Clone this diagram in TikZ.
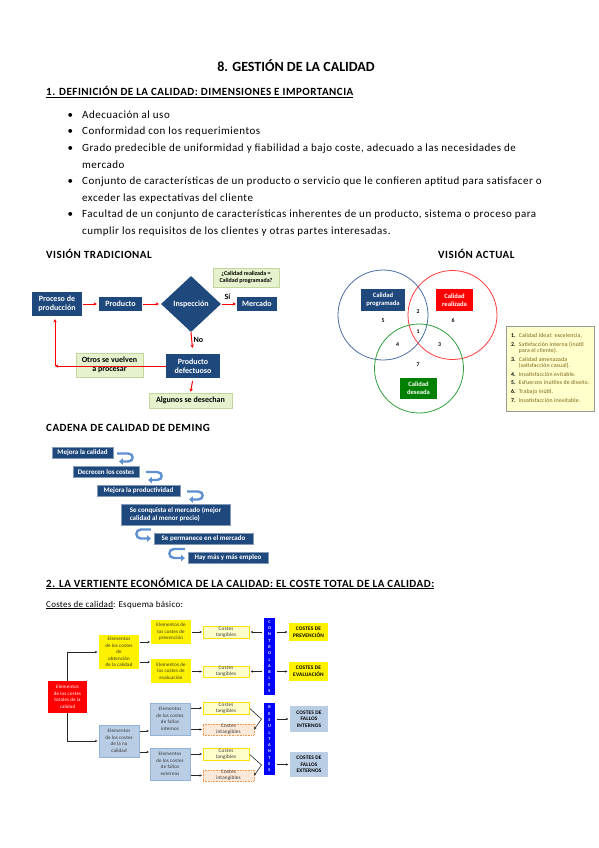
\documentclass[tikz,border=0pt]{standalone}
\usepackage{fontspec}
\setmainfont{Carlito}
\newfontfamily\ls[LetterSpace=4.5]{Carlito}
\newfontfamily\lss[LetterSpace=3]{Carlito}
\usetikzlibrary{shapes.geometric,arrows.meta,calc,shadows}
\definecolor{dblue}{RGB}{31,73,125}
\definecolor{lgreen}{RGB}{230,241,205}
\definecolor{lgreend}{RGB}{195,214,155}
\definecolor{vblue}{RGB}{74,111,165}
\definecolor{vred}{RGB}{255,60,60}
\definecolor{vgreen}{RGB}{50,160,60}
\definecolor{dgreen}{RGB}{0,128,0}
\definecolor{legbg}{RGB}{255,255,204}
\definecolor{legtxt}{RGB}{120,95,20}
\definecolor{arrblue}{RGB}{95,145,210}
\definecolor{lblue}{RGB}{185,205,229}
\definecolor{lblued}{RGB}{149,179,215}
\definecolor{lyellow}{RGB}{255,255,204}
\definecolor{peach}{RGB}{253,233,217}
\definecolor{orangeb}{RGB}{247,150,70}
\definecolor{barblue}{RGB}{0,0,255}
\begin{document}
\begin{tikzpicture}[x=1pt,y=-1pt,
  txt/.style={inner sep=0,anchor=base west},
  tb/.style={fill=dblue,text=white,font=\fontsize{8}{9.4}\selectfont\bfseries,align=center,inner sep=0},
  gnote/.style={fill=lgreen,draw=lgreend,line width=0.5pt,align=center,inner sep=0,font=\fontsize{8}{9.4}\selectfont\bfseries},
  redarr/.style={draw=red,line width=1pt,-{Stealth[length=3.2pt,width=3.4pt]}},
  vbox/.style={text=white,font=\fontsize{6.6}{8}\selectfont\bfseries,align=center,inner sep=0},
  vnum/.style={font=\fontsize{5.8}{6}\selectfont\bfseries,inner sep=0},
  dbox/.style={fill=dblue,draw=dblue!55!white,line width=0.3pt,text=white,font=\fontsize{7}{8.6}\selectfont\bfseries,inner sep=0},
  darr/.style={draw=arrblue,line width=2.4pt,-{Triangle[length=3.8pt,width=6.5pt]}},
  cbox/.style={inner sep=0,align=center,font=\lss\fontsize{5}{6.5}\selectfont,text=black!80},
  cbold/.style={font=\lss\fontsize{5.4}{6.6}\selectfont\bfseries,text=black},
  yel/.style={cbox,fill=yellow},
  lb/.style={cbox,fill=lblue,draw=lblued,line width=0.3pt},
  tang/.style={cbox,fill=lyellow,draw=yellow!85!orange,line width=0.4pt,font=\lss\fontsize{5.2}{5.8}\selectfont},
  intang/.style={cbox,fill=peach,draw=orangeb,line width=0.4pt,dash pattern=on 1pt off 0.6pt,font=\lss\fontsize{5.2}{5.8}\selectfont},
  bar/.style={fill=barblue,text=white,inner sep=0,align=center,font=\fontsize{4.3}{6.3}\selectfont\bfseries},
  carr/.style={draw=black!85,line width=0.6pt,-{Stealth[length=2.3pt,width=2.4pt]}}
]
\useasboundingbox (0,0) rectangle (599,848);
\fill[white] (0,0) rectangle (599,848);

% ---------- headings and bullets
\node[inner sep=0,font=\fontsize{14}{16}\selectfont\bfseries] (title) at (296,66) {8. GESTIÓN DE LA CALIDAD};
\node[txt,font=\ls\fontsize{11}{13}\selectfont\bfseries] (h1) at (46,96) {\underline{1. DEFINICIÓN DE LA CALIDAD: DIMENSIONES E IMPORTANCIA}};

\foreach \i/\t in {0/{Adecuación al uso},
  1/{Conformidad con los requerimientos},
  2/{Grado predecible de uniformidad y fiabilidad a bajo coste, adecuado a las necesidades de},
  3/{mercado},
  4/{Conjunto de características de un producto o servicio que le confieren aptitud para satisfacer o},
  5/{exceder las expectativas del cliente},
  6/{Facultad de un conjunto de características inherentes de un producto, sistema o proceso para},
  7/{cumplir los requisitos de los clientes y otras partes interesadas.}}
  {\node[txt,font=\ls\fontsize{11}{13}\selectfont] (l\i) at (82,118.5+16.5*\i) {\t};}
\foreach \i in {0,1,2,4,6}
  {\node[txt,font=\fontsize{11}{13}\selectfont] (b\i) at (67.5,118.5+16.5*\i) {•};}

% ---------- vision tradicional
\node[txt,font=\ls\fontsize{11}{13}\selectfont\bfseries] (vt) at (46,258) {VISIÓN TRADICIONAL};
\node[tb,minimum width=50,minimum height=24] (proc) at (57,304) {Proceso de\\producción};
\node[tb,minimum width=43,minimum height=14] (prod) at (120.5,304) {Producto};
\node[diamond,aspect=1,fill=dblue,text=white,font=\fontsize{8}{9.4}\selectfont\bfseries,inner sep=0,minimum width=60,minimum height=56] (insp) at (191,304) {Inspección};
\node[tb,minimum width=40,minimum height=14] (merc) at (257,304) {Mercado};
\node[gnote,minimum width=66,minimum height=19,font=\fontsize{6}{7.4}\selectfont\bfseries] (note) at (246,277.5) {¿Calidad realizada =\\Calidad programada?};
\node[tb,minimum width=54,minimum height=24] (def) at (193,366) {Producto\\defectuoso};
\node[gnote,minimum width=67,minimum height=24] (otros) at (109.5,365) {Otros se vuelven\\a procesar};
\node[gnote,minimum width=83,minimum height=15] (alg) at (190.5,400.5) {Algunos se desechan};
\draw[redarr,shorten <=1pt,shorten >=2pt] (proc.east) -- (prod.west);
\draw[redarr,shorten <=1pt,shorten >=2pt] (prod.east) -- (insp.west);
\draw[redarr,shorten <=1pt,shorten >=1pt] (insp.east) -- (merc.west);
\node[inner sep=0,font=\fontsize{8}{9}\selectfont\bfseries] (si) at (227.5,297) {Sí};
\draw[redarr,shorten <=0pt,shorten >=6pt] (insp.south) -- (def.north);
\node[inner sep=0,font=\fontsize{8}{9}\selectfont\bfseries] (no) at (198.5,339.5) {No};
\draw[redarr,shorten <=3pt,shorten >=1pt] (def.south) -- (alg.north);
\coordinate (c1) at (55,366);
\draw[redarr] (def.west) -- (c1);
\draw[redarr,shorten >=3pt] (c1) -- (c1 |- proc.south);

% ---------- vision actual
\node[txt,font=\ls\fontsize{11}{13}\selectfont\bfseries] (va) at (438,258) {VISIÓN ACTUAL};
\node[circle,draw=vblue,line width=0.8pt,minimum size=90,inner sep=0] (cb) at (383,315) {};
\node[circle,draw=vred,line width=0.8pt,minimum size=89,inner sep=0] (cr) at (452.5,315) {};
\node[circle,draw=vgreen,line width=0.8pt,minimum size=89,inner sep=0] (cg) at (419,368.5) {};
\node[vbox,fill=dblue,minimum width=44,minimum height=22] (vprog) at (383,300) {Calidad\\programada};
\node[vbox,fill=red,minimum width=37,minimum height=22] (vreal) at (454.5,300) {Calidad\\realizada};
\node[vbox,fill=dgreen,minimum width=37,minimum height=21] (vdes) at (418.5,388.5) {Calidad\\deseada};
\node[vnum] (n5) at (383,321) {5};
\node[vnum] (n2) at (418,312) {2};
\node[vnum] (n6) at (453,321) {6};
\node[vnum] (n1) at (418,332) {1};
\node[vnum] (n4) at (397.5,345) {4};
\node[vnum] (n3) at (439.5,345) {3};
\node[vnum] (n7) at (418,365) {7};
\node[anchor=north west,fill=legbg,draw=black!40,line width=0.4pt,inner xsep=3.5pt,inner ysep=3pt,
  minimum width=88,minimum height=85,
  drop shadow={shadow xshift=1.2pt,shadow yshift=-1.2pt,opacity=0.45},
  font=\lss\fontsize{5.8}{6.3}\selectfont,text=legtxt,align=left] (leg) at (506,326)
  {\begin{tabular}{@{}l@{\hspace{3pt}}l@{}}
   \textcolor{black}{\textbf{1.}} & Calidad ideal: excelencia.\\[2.3pt]
   \textcolor{black}{\textbf{2.}} & Satisfacción interna (inútil\\
    & para el cliente).\\[2.3pt]
   \textcolor{black}{\textbf{3.}} & Calidad amenazada\\
    & (satisfacción casual).\\[2.3pt]
   \textcolor{black}{\textbf{4.}} & Insatisfacción evitable.\\[2.3pt]
   \textcolor{black}{\textbf{5.}} & Esfuerzos inútiles de diseño.\\[2.3pt]
   \textcolor{black}{\textbf{6.}} & Trabajo inútil.\\[2.3pt]
   \textcolor{black}{\textbf{7.}} & Insatisfacción inevitable.
  \end{tabular}};

% ---------- Deming
\node[txt,font=\ls\fontsize{11}{13}\selectfont\bfseries] (dem) at (46,431) {CADENA DE CALIDAD DE DEMING};
\node[dbox,minimum width=61,minimum height=11] (d1) at (82.5,452.5) {Mejora la calidad};
\node[dbox,minimum width=66,minimum height=11] (d2) at (106,472) {Decrecen los costes};
\node[dbox,minimum width=83,minimum height=11] (d3) at (138.5,490.5) {Mejora la productividad};
\node[dbox,minimum width=109,minimum height=21,align=left] (d4) at (175.5,514.5) {Se conquista el mercado (mejor\\calidad al menor precio)};
\node[dbox,minimum width=99,minimum height=11] (d5) at (203.5,538.5) {Se permanece en el mercado};
\node[dbox,minimum width=80,minimum height=11] (d6) at (228,558) {Hay más y más empleo};
\draw[darr] ($(d1.east)+(4,1)$) -- ++(11,0) .. controls +(6,0) and +(6,0) .. ++(0,8) -- ++(-9,0);
\draw[darr] ($(d2.east)+(7,0)$) -- ++(11,0) .. controls +(6,0) and +(6,0) .. ++(0,8) -- ++(-9,0);
\draw[darr] ($(d3.east)+(7,1)$) -- ++(11,0) .. controls +(6,0) and +(6,0) .. ++(0,8) -- ++(-9,0);
\draw[darr] ($(d5.west)+(-3,-9)$) -- ++(-10,0) .. controls +(-6,0) and +(-6,0) .. ++(0,9) -- ++(10,0);
\draw[darr] ($(d6.west)+(-3,-9)$) -- ++(-11,0) .. controls +(-6,0) and +(-6,0) .. ++(0,9) -- ++(11,0);

% ---------- section 2
\node[txt,font=\ls\fontsize{11}{13}\selectfont\bfseries] (h2) at (46,587) {\underline{2. LA VERTIENTE ECONÓMICA DE LA CALIDAD: EL COSTE TOTAL DE LA CALIDAD:}};
\node[txt,font=\lss\fontsize{9}{11}\selectfont] (h3) at (46,607) {\underline{Costes de calidad}: Esquema básico:};

\node[cbox,fill=red,text=white,minimum width=39,minimum height=32] (red) at (67.5,697) {Elementos\\de los costes\\totales de la\\calidad};
\node[yel,minimum width=40,minimum height=34] (yob) at (119,652) {Elementos\\de los costes\\de\\obtención\\de la calidad};
\node[lb,minimum width=40,minimum height=32] (ync) at (119,741) {Elementos\\de los costes\\de la no\\calidad};
\draw[carr,shorten >=1.5pt] (red.north) |- (yob.west);
\draw[carr,shorten >=1.5pt] (red.south) |- (ync.west);

\node[yel,minimum width=40,minimum height=24] (prev) at (171,632) {Elementos de\\los costes de\\prevención};
\node[yel,minimum width=40,minimum height=24] (eval) at (171,671) {Elementos de\\los costes de\\evaluación};
\node[lb,minimum width=40,minimum height=32] (fint) at (170,719) {Elementos\\de los costes\\de fallos\\internos};
\node[lb,minimum width=40,minimum height=32] (fext) at (170,764) {Elementos\\de los costes\\de fallos\\externos};
\draw[carr,shorten <=1pt,shorten >=1pt] ($(yob.east)+(0,-10)$) -- ($(yob.east -| prev.west)+(0,-10)$);
\draw[carr,shorten <=1pt,shorten >=1pt] ($(yob.east)+(0,10)$) -- ($(yob.east -| eval.west)+(0,10)$);
\draw[carr,shorten <=1pt,shorten >=1pt] ($(ync.east)+(0,-10)$) -- ($(ync.east -| fint.west)+(0,-10)$);
\draw[carr,shorten <=1pt,shorten >=1pt] ($(ync.east)+(0,11)$) -- ($(ync.east -| fext.west)+(0,11)$);

\node[tang,minimum width=46,minimum height=12] (t1) at (226,632) {Costes\\tangibles};
\node[tang,minimum width=46,minimum height=11] (t2) at (226,671.5) {Costes\\tangibles};
\node[tang,minimum width=46,minimum height=12] (t3) at (226,708) {Costes\\tangibles};
\node[intang,minimum width=51,minimum height=11] (i3) at (228.5,729.5) {Costes\\intangibles};
\node[tang,minimum width=46,minimum height=12] (t4) at (226,754) {Costes\\tangibles};
\node[intang,minimum width=51,minimum height=11] (i4) at (228.5,775.5) {Costes\\intangibles};
\draw[carr,shorten <=1pt,shorten >=1pt] (prev.east |- t1.west) -- (t1.west);
\draw[carr,shorten <=1pt,shorten >=1pt] (eval.east |- t2.west) -- (t2.west);
\draw[carr,shorten <=1pt,shorten >=1pt] (fint.east |- t3.west) -- (t3.west);
\draw[carr,shorten <=1pt,shorten >=1pt] (fint.east |- i3.west) -- (i3.west);
\draw[carr,shorten <=1pt,shorten >=1pt] (fext.east |- t4.west) -- (t4.west);
\draw[carr,shorten <=1pt,shorten >=1pt] (fext.east |- i4.west) -- (i4.west);

\node[bar,minimum width=11,minimum height=77] (bar1) at (269.5,656.5) {C\\O\\N\\T\\R\\O\\L\\A\\B\\L\\E\\S};
\node[bar,minimum width=11,minimum height=72] (bar2) at (269.5,739) {R\\E\\S\\U\\L\\T\\A\\N\\T\\E\\S};
\draw[carr,shorten <=1.5pt,shorten >=1.5pt] (bar1.west |- t1.east) -- (t1.east);
\draw[carr,shorten <=1.5pt,shorten >=1.5pt] (bar1.west |- t2.east) -- (t2.east);
\coordinate (k3) at (261.5,719);
\coordinate (k4) at (261.5,765);
\draw[carr,shorten <=1pt] (t3.east) -- (k3) -- (i3.east);
\draw[carr,shorten <=1pt] (t4.east) -- (k4) -- (i4.east);

\node[yel,cbold,minimum width=39,minimum height=18] (cp) at (308.5,632) {COSTES DE\\PREVENCIÓN};
\node[yel,cbold,minimum width=39,minimum height=19] (ce) at (308.5,671.5) {COSTES DE\\EVALUACIÓN};
\node[cbox,cbold,fill=lblue,minimum width=38,minimum height=26] (cfi) at (309,719) {COSTES DE\\FALLOS\\INTERNOS};
\node[cbox,cbold,fill=lblue,minimum width=38,minimum height=25] (cfe) at (309,764.5) {COSTES DE\\FALLOS\\EXTERNOS};
\draw[carr,shorten <=1.5pt,shorten >=1.5pt] (bar1.east |- cp.west) -- (cp.west);
\draw[carr,shorten <=1.5pt,shorten >=1.5pt] (bar1.east |- ce.west) -- (ce.west);
\draw[carr,shorten <=1.5pt,shorten >=1.5pt] (bar2.east |- cfi.west) -- (cfi.west);
\draw[carr,shorten <=1.5pt,shorten >=1.5pt] (bar2.east |- cfe.west) -- (cfe.west);
\end{tikzpicture}
\end{document}
